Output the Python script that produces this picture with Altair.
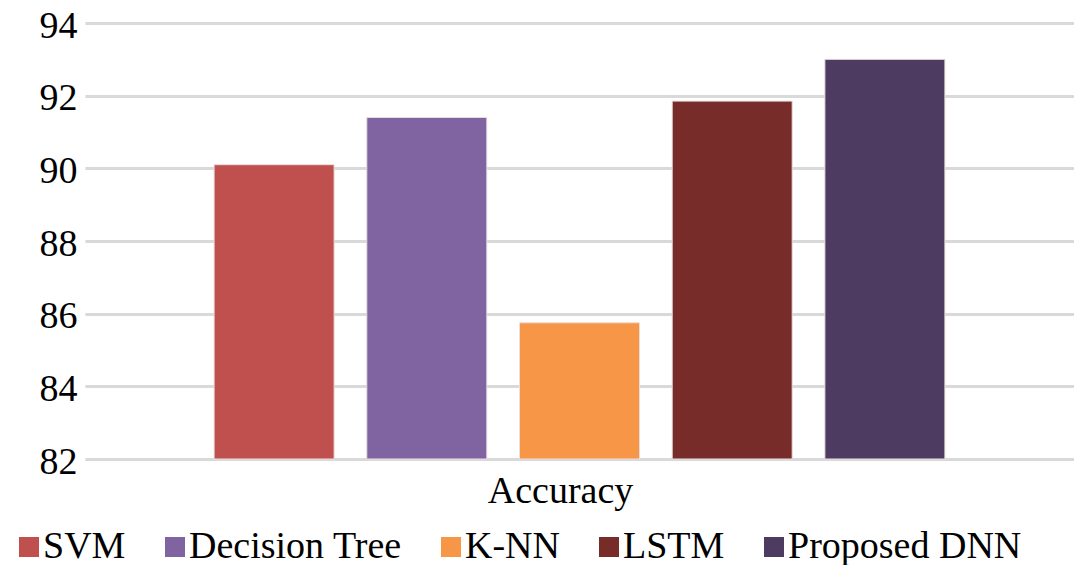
import altair as alt
import pandas as pd

# Model accuracy (%) for the single "Accuracy" category
metric = ["Accuracy", "Accuracy", "Accuracy", "Accuracy", "Accuracy"]
models = ["SVM", "Decision Tree", "K-NN", "LSTM", "Proposed DNN"]
accuracy = [90.1, 91.4, 85.75, 91.85, 93.0]
colors = ["#C0504D", "#8064A2", "#F79646", "#772C2A", "#4D3B62"]
y_ticks = [82, 84, 86, 88, 90, 92, 94]

df = pd.DataFrame({"metric": metric, "model": models, "value": accuracy})

FONT = "'Liberation Serif', 'Times New Roman', Times, 'DejaVu Serif', serif"

chart = (
    alt.Chart(df)
    .mark_bar(stroke="#eadede", strokeWidth=1)
    .encode(
        x=alt.X(
            "metric:N",
            title=None,
            scale=alt.Scale(paddingInner=0, paddingOuter=0.1477),
            axis=alt.Axis(
                labelFont=FONT,
                labelFontSize=38,
                labelColor="#000000",
                labelPadding=13,
                labelOffset=-19,
                labelAngle=0,
                labelLimit=400,
                ticks=False,
                domain=False,
            ),
        ),
        xOffset=alt.XOffset(
            "model:N",
            sort=models,
            scale=alt.Scale(paddingInner=0.214, paddingOuter=0.107),
        ),
        y=alt.Y(
            "value:Q",
            title=None,
            scale=alt.Scale(domain=[82, 94], nice=False, zero=False),
            axis=alt.Axis(
                values=y_ticks,
                labelFont=FONT,
                labelFontSize=38,
                labelColor="#000000",
                labelPadding=8,
                labelOffset=3,
                ticks=False,
                domain=False,
                grid=True,
                gridColor="#d9d9d9",
                gridWidth=3,
            ),
        ),
        y2=alt.datum(82),
        color=alt.Color(
            "model:N",
            sort=models,
            scale=alt.Scale(domain=models, range=colors),
            legend=alt.Legend(
                title=None,
                orient="none",
                legendX=-75,
                legendY=505,
                direction="horizontal",
                symbolType="square",
                symbolSize=400,
                symbolStrokeWidth=0,
                labelFont=FONT,
                labelFontSize=38,
                labelColor="#000000",
                labelOffset={"expr": "-5"},
                labelLimit=400,
                columnPadding=30,
                padding=0,
            ),
        ),
    )
    .properties(
        width=989,
        height=436,
        padding={"left": 85, "top": 23, "right": 0, "bottom": 106},
        autosize=alt.AutoSizeParams(type="none"),
        background="#ffffff",
    )
    .configure_view(stroke=None)
)

chart.save("out.html", embed_options={"renderer": "svg", "actions": False})
